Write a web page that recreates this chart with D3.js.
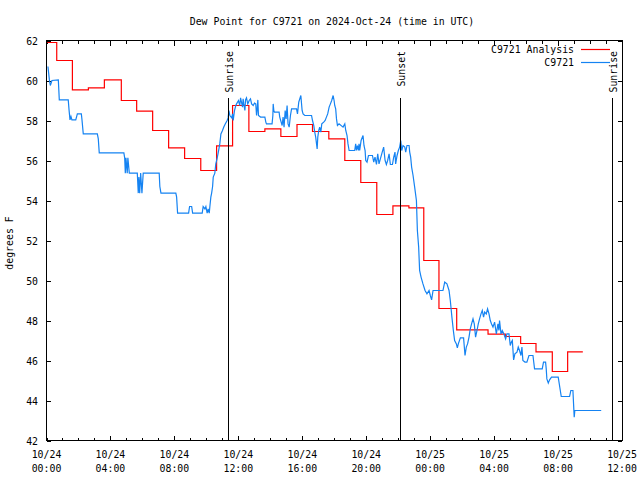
<!DOCTYPE html>
<html><head><meta charset="utf-8">
<script src="https://cdn.jsdelivr.net/npm/d3@7"></script>
<style>
html,body{margin:0;padding:0;background:#fff;}
svg{display:block;}
text{font-family:"DejaVu Sans Mono","Liberation Mono",monospace;font-size:9.85px;fill:#000;}
</style></head>
<body>
<script>
// ---------- data ----------
const chartTitle = "Dew Point for C9721 on 2024-Oct-24 (time in UTC)";
const yLabel = "degrees F";
const seriesNames = ["C9721 Analysis", "C9721"];
const seriesColors = ["#ff0000", "#1583f2"];
const startUTC = Date.UTC(2024, 9, 24, 0, 0);
const spanHours = 36;
const yTicks = [42, 44, 46, 48, 50, 52, 54, 56, 58, 60, 62];

// Analysis (hourly steps): hour offsets from 10/24 00:00 UTC, values in F
const anaHours = [0.05, 0.64, 1.62, 2.62, 3.62, 4.68, 5.64, 6.64, 7.64, 8.64, 9.65, 10.64, 11.64, 12.66, 13.66, 14.66, 15.67, 16.64, 17.66, 18.66, 19.66, 20.66, 21.67, 22.67, 23.6, 24.55, 25.66, 27.62, 28.7, 29.66, 30.62, 31.64, 32.6, 33.55];
const anaValues = [61.9, 61.0, 59.53, 59.63, 60.03, 59.0, 58.47, 57.5, 56.63, 56.1, 55.5, 56.73, 58.75, 57.45, 57.58, 57.2, 57.8, 57.45, 57.08, 56.0, 54.9, 53.3, 53.73, 53.63, 51.0, 48.6, 47.53, 47.32, 47.2, 46.85, 46.43, 45.45, 46.43, 46.43];

// Observations
const obsHours = [0.09,0.18,0.24,0.34,0.74,0.80,1.36,1.41,1.47,1.53,1.59,1.83,1.93,2.18,2.22,2.30,3.18,3.24,3.30,4.84,4.89,4.93,4.97,5.05,5.09,5.18,5.68,5.74,5.78,5.83,5.89,5.97,6.05,7.05,7.09,7.16,8.09,8.14,8.20,8.89,8.95,9.08,9.14,9.74,9.80,9.91,9.97,10.05,10.11,10.18,10.22,10.28,10.33,10.39,10.43,10.53,10.59,10.68,10.74,10.84,10.91,11.01,11.09,11.18,11.30,11.36,11.41,11.47,11.59,11.64,11.68,11.76,11.84,
11.89,12.01,12.09,12.14,12.26,12.30,12.34,12.41,12.45,12.51,12.59,12.68,12.76,12.83,12.93,13.01,13.09,13.14,13.18,13.22,13.26,13.39,13.66,13.72,13.76,14.11,14.16,14.18,14.22,14.26,14.55,14.59,14.74,14.80,14.86,14.93,14.99,15.05,15.11,15.18,15.26,15.33,15.64,15.70,15.78,15.91,15.99,16.05,16.16,16.58,16.64,16.72,16.78,16.84,16.93,16.97,17.03,17.09,17.16,17.22,17.34,17.43,17.51,17.59,17.68,17.76,17.84,17.93,17.99,18.03,18.09,18.14,18.20,18.30,18.55,18.66,18.72,18.80,18.86,18.93,19.28,19.34,19.39,19.45,19.51,19.55,19.59,19.68,19.80,19.86,19.93,19.97,20.05,20.14,20.39,20.47,20.55,20.64,20.72,20.80,20.97,21.09,21.18,21.26,21.34,21.43,21.51,21.64,21.72,21.80,21.84,21.93,22.01,22.09,22.16,22.22,22.30,22.41,22.47,22.55,22.68,22.72,22.78,22.84,22.93,23.03,23.14,
23.20,23.28,23.34,23.43,23.55,23.68,23.80,23.93,24.01,24.09,24.18,24.80,24.91,25.05,25.18,25.26,25.36,25.45,25.53,25.64,25.70,25.76,25.89,26.09,26.18,26.26,26.34,26.43,26.51,26.59,26.68,26.76,26.84,26.93,27.01,27.09,27.18,27.26,27.34,27.41,27.51,27.59,27.68,27.76,27.84,27.93,28.03,28.14,28.24,28.30,28.34,28.43,28.51,28.61,28.72,28.80,28.93,29.01,29.08,29.14,29.22,29.30,29.43,29.51,29.59,29.68,29.74,29.80,29.93,30.05,30.18,30.43,30.53,31.01,31.09,31.22,31.26,31.30,31.39,31.47,31.59,32.01,32.14,32.20,32.72,32.80,32.93,32.97,33.01,33.05,34.70];
const obsValues = [60.7,60.03,59.75,60.0,60.03,59.03,59.03,58.53,58.03,58.2,58.03,58.03,58.33,58.33,58.03,57.33,57.33,57.08,56.38,56.38,56.13,55.37,56.13,55.37,56.13,55.37,55.37,54.37,55.17,54.37,55.37,54.37,55.37,55.37,54.7,54.37,54.37,54.17,53.37,53.37,53.7,53.7,53.37,53.37,53.7,53.58,53.7,53.37,53.58,53.37,53.7,54.17,54.37,54.7,55.17,55.37,55.83,56.13,56.38,56.83,57.33,57.5,57.67,57.83,58.0,58.13,58.5,58.25,58.13,58.33,58.0,58.5,58.75,
58.83,59.0,58.75,59.13,58.67,59.08,58.83,58.5,59.03,59.13,58.83,59.0,59.08,58.83,58.75,58.87,58.83,58.25,58.58,59.03,58.25,58.17,58.17,57.92,57.83,57.83,58.25,58.83,58.5,58.42,58.42,58.17,57.75,58.17,57.67,58.5,58.08,58.75,57.83,57.67,58.25,58.58,58.58,58.33,58.92,59.25,58.5,58.33,58.25,58.25,58.0,57.75,57.42,57.17,56.58,57.17,57.5,57.67,57.42,57.83,57.92,58.0,58.17,58.33,58.67,58.83,59.0,59.25,59.0,58.75,58.58,58.08,57.75,57.83,57.67,57.83,57.5,57.25,56.83,56.5,56.5,56.83,56.5,56.75,56.5,56.83,56.5,57.0,57.25,56.75,56.5,56.0,55.92,56.25,56.25,55.92,56.17,55.8,56.33,55.83,56.33,56.67,56.0,55.8,56.0,56.33,55.8,55.8,56.17,56.42,55.83,56.25,56.5,56.67,57.0,56.5,56.75,56.67,56.42,56.75,56.75,56.42,56.17,55.67,55.25,54.67,54.0,
52.5,51.67,50.5,50.17,49.83,49.5,49.33,49.5,49.25,49.03,49.5,49.5,49.92,49.83,49.5,49.0,48.17,47.5,47.0,46.83,46.63,46.83,47.13,47.13,46.25,46.67,46.83,47.17,47.58,47.83,48.08,47.83,47.17,47.5,47.83,48.08,48.33,48.5,48.17,48.42,48.33,48.58,48.33,48.0,47.83,47.67,47.92,47.33,47.83,47.5,48.0,47.33,47.5,47.33,47.08,47.33,47.33,46.75,46.92,47.0,46.03,46.33,46.42,46.67,46.5,46.25,46.67,46.0,45.92,45.92,46.25,46.25,45.58,45.58,45.92,45.92,45.58,45.08,44.87,45.03,45.17,45.17,44.5,44.2,44.2,44.5,44.5,43.83,43.17,43.5,43.5];

// Sun events (hours from start)
const eventNames = ["Sunrise", "Sunset", "Sunrise"];
const eventHours = [11.37, 22.13, 35.40];

// ---------- drawing ----------
const W = 640, H = 480;
const L = 46.5, R = 622, T = 40.5, B = 440.5;
const hourMs = 3600 * 1000;
const toDate = h => new Date(startUTC + h * hourMs);

const svg = d3.select("body").append("svg").attr("width", W).attr("height", H);

const x = d3.scaleUtc().domain([toDate(0), toDate(spanHours)]).range([L, R]);
const y = d3.scaleLinear().domain([42, 62]).range([B, T]);

const hourTicks = d3.utcHour.every(1).range(toDate(0), toDate(spanHours + 0.01));
const majorTicks = d3.utcHour.every(4).range(toDate(0), toDate(spanHours + 0.01));

// axes (ticks inward)
const gB = svg.append("g").attr("transform", `translate(0,${B})`)
  .call(d3.axisBottom(x).tickValues(hourTicks).tickSizeInner(-3).tickSizeOuter(0).tickFormat(""));
const gT = svg.append("g").attr("transform", `translate(0,${T})`)
  .call(d3.axisTop(x).tickValues(hourTicks).tickSizeInner(-3).tickSizeOuter(0).tickFormat(""));
const gL = svg.append("g").attr("transform", `translate(${L},0)`)
  .call(d3.axisLeft(y).tickValues(yTicks).tickSizeInner(-4).tickSizeOuter(0).tickPadding(8.5).tickFormat(d3.format("d")));
const gR = svg.append("g").attr("transform", `translate(${R},0)`)
  .call(d3.axisRight(y).tickValues(yTicks).tickSizeInner(-4).tickSizeOuter(0).tickFormat(""));
[gB, gT, gL, gR].forEach(g => {
  g.select(".domain").remove();
  g.selectAll("line").attr("stroke", "#000").attr("shape-rendering", "crispEdges");
  g.selectAll("text").attr("font-family", null).attr("font-size", null).attr("fill", "#000");
});
gL.selectAll("text").attr("dy", "0.36em");

// major x tick marks a little longer
svg.append("g").selectAll("line.maj").data(majorTicks).join("line")
  .attr("x1", d => x(d)).attr("x2", d => x(d)).attr("y1", B).attr("y2", B - 5)
  .attr("stroke", "#000").attr("shape-rendering", "crispEdges");
svg.append("g").selectAll("line.majt").data(majorTicks).join("line")
  .attr("x1", d => x(d)).attr("x2", d => x(d)).attr("y1", T).attr("y2", T + 5)
  .attr("stroke", "#000").attr("shape-rendering", "crispEdges");

// x tick labels (two lines)
const fmtDate = d3.utcFormat("%m/%d"), fmtTime = d3.utcFormat("%H:%M");
const xl = svg.append("g").selectAll("text").data(majorTicks).join("text")
  .attr("text-anchor", "middle");
xl.append("tspan").attr("x", d => x(d)).attr("y", 457.5).text(d => fmtDate(d));
xl.append("tspan").attr("x", d => x(d)).attr("y", 471.5).text(d => fmtTime(d));

// frame
svg.append("rect").attr("x", L).attr("y", T).attr("width", R - L).attr("height", B - T)
  .attr("fill", "none").attr("stroke", "#000").attr("shape-rendering", "crispEdges");

// series
const anaPts = anaHours.map((h, i) => [toDate(h), anaValues[i]]);
const obsPts = obsHours.map((h, i) => [toDate(h), obsValues[i]]);
svg.append("path").datum(anaPts)
  .attr("d", d3.line().x(d => x(d[0])).y(d => y(d[1])).curve(d3.curveStepAfter))
  .attr("fill", "none").attr("stroke", seriesColors[0]).attr("stroke-width", 1.2);
svg.append("path").datum(obsPts)
  .attr("d", d3.line().x(d => x(d[0])).y(d => y(d[1])))
  .attr("fill", "none").attr("stroke", seriesColors[1]).attr("stroke-width", 1.2);

// sun events
const ev = svg.append("g").selectAll("g").data(eventNames.map((n, i) => ({n, t: toDate(eventHours[i])}))).join("g");
ev.append("line")
  .attr("x1", d => Math.round(x(d.t)) + 0.5).attr("x2", d => Math.round(x(d.t)) + 0.5)
  .attr("y1", 98).attr("y2", B).attr("stroke", "#000").attr("shape-rendering", "crispEdges");
ev.append("text")
  .attr("transform", d => `translate(${Math.round(x(d.t)) + 4.5},51) rotate(-90)`)
  .attr("text-anchor", "end").text(d => d.n);

// title and axis label
svg.append("text").attr("x", 332).attr("y", 24.5).attr("text-anchor", "middle").text(chartTitle);
svg.append("text").attr("transform", "translate(13,243) rotate(-90)").attr("text-anchor", "middle").text(yLabel);

// legend
const lg = svg.append("g").selectAll("g").data(seriesNames).join("g")
  .attr("transform", (d, i) => `translate(0,${49.5 + i * 13})`);
lg.append("text").attr("x", 574).attr("y", 3.6).attr("text-anchor", "end").text(d => d);
lg.append("line").attr("x1", 581).attr("x2", 610).attr("y1", 0).attr("y2", 0)
  .attr("stroke", (d, i) => seriesColors[i]).attr("stroke-width", 1.2);
</script>
</body></html>
